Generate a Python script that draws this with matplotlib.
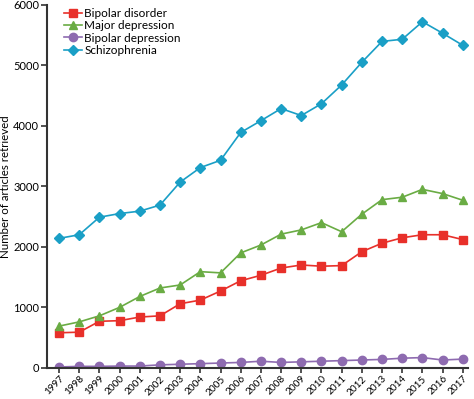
import matplotlib
matplotlib.use("Agg")
import matplotlib.pyplot as plt

plt.rcParams["font.family"] = ["Lato", "DejaVu Sans"]

years = list(range(1997, 2018))
bipolar_disorder = [580, 590, 770, 780, 840, 860, 1060, 1120, 1270, 1440, 1530,
                    1650, 1700, 1680, 1690, 1920, 2060, 2150, 2200, 2200, 2120]
major_depression = [690, 760, 860, 1000, 1180, 1320, 1370, 1590, 1570, 1900, 2030,
                    2210, 2280, 2400, 2250, 2540, 2780, 2820, 2950, 2880, 2770]
bipolar_depression = [15, 25, 25, 30, 30, 50, 60, 70, 80, 90, 110,
                      90, 100, 110, 120, 130, 140, 160, 170, 130, 145]
schizophrenia = [2140, 2200, 2490, 2550, 2590, 2690, 3070, 3310, 3430, 3890, 4085,
                 4285, 4170, 4365, 4675, 5050, 5395, 5430, 5720, 5530, 5330]

fig = plt.figure(figsize=(4.74, 3.99), dpi=100)
ax = fig.add_axes([0.099, 0.078, 0.888, 0.91])

ax.plot(years, bipolar_disorder, "-s", color="#e8302a", ms=5.5, lw=1.2, label="Bipolar disorder")
ax.plot(years, major_depression, "-^", color="#6aac44", ms=6, lw=1.2, label="Major depression")
ax.plot(years, bipolar_depression, "-o", color="#8e6bb0", ms=6, lw=1.2, label="Bipolar depression")
ax.plot(years, schizophrenia, "-D", color="#1a9fc6", ms=5.5, lw=1.2, label="Schizophrenia")

ax.set_xlim(1996.4, 2017.25)
ax.set_ylim(0, 6000)
ax.set_yticks(range(0, 6001, 1000))
ax.set_xticks(years)
ax.set_xticklabels([str(y) for y in years], rotation=45, ha="right",
                   rotation_mode="anchor", fontsize=7.2)
ax.tick_params(axis="y", labelsize=8, length=4, width=1.2, color="#333333", pad=1.5)
ax.tick_params(axis="x", length=3.5, width=1.2, color="#333333", pad=1)
ax.set_ylabel("Number of articles retrieved", fontsize=8.3, labelpad=1.5)

for s in ("top", "right"):
    ax.spines[s].set_visible(False)
for s in ("left", "bottom"):
    ax.spines[s].set_linewidth(1.5)
    ax.spines[s].set_color("#333333")

ax.legend(loc="upper left", bbox_to_anchor=(0.03, 1.005), frameon=False,
          fontsize=8.5, handlelength=1.5, handletextpad=0.2, labelspacing=0.12,
          borderaxespad=0)

fig.savefig("out.png", dpi=100, facecolor="white")
